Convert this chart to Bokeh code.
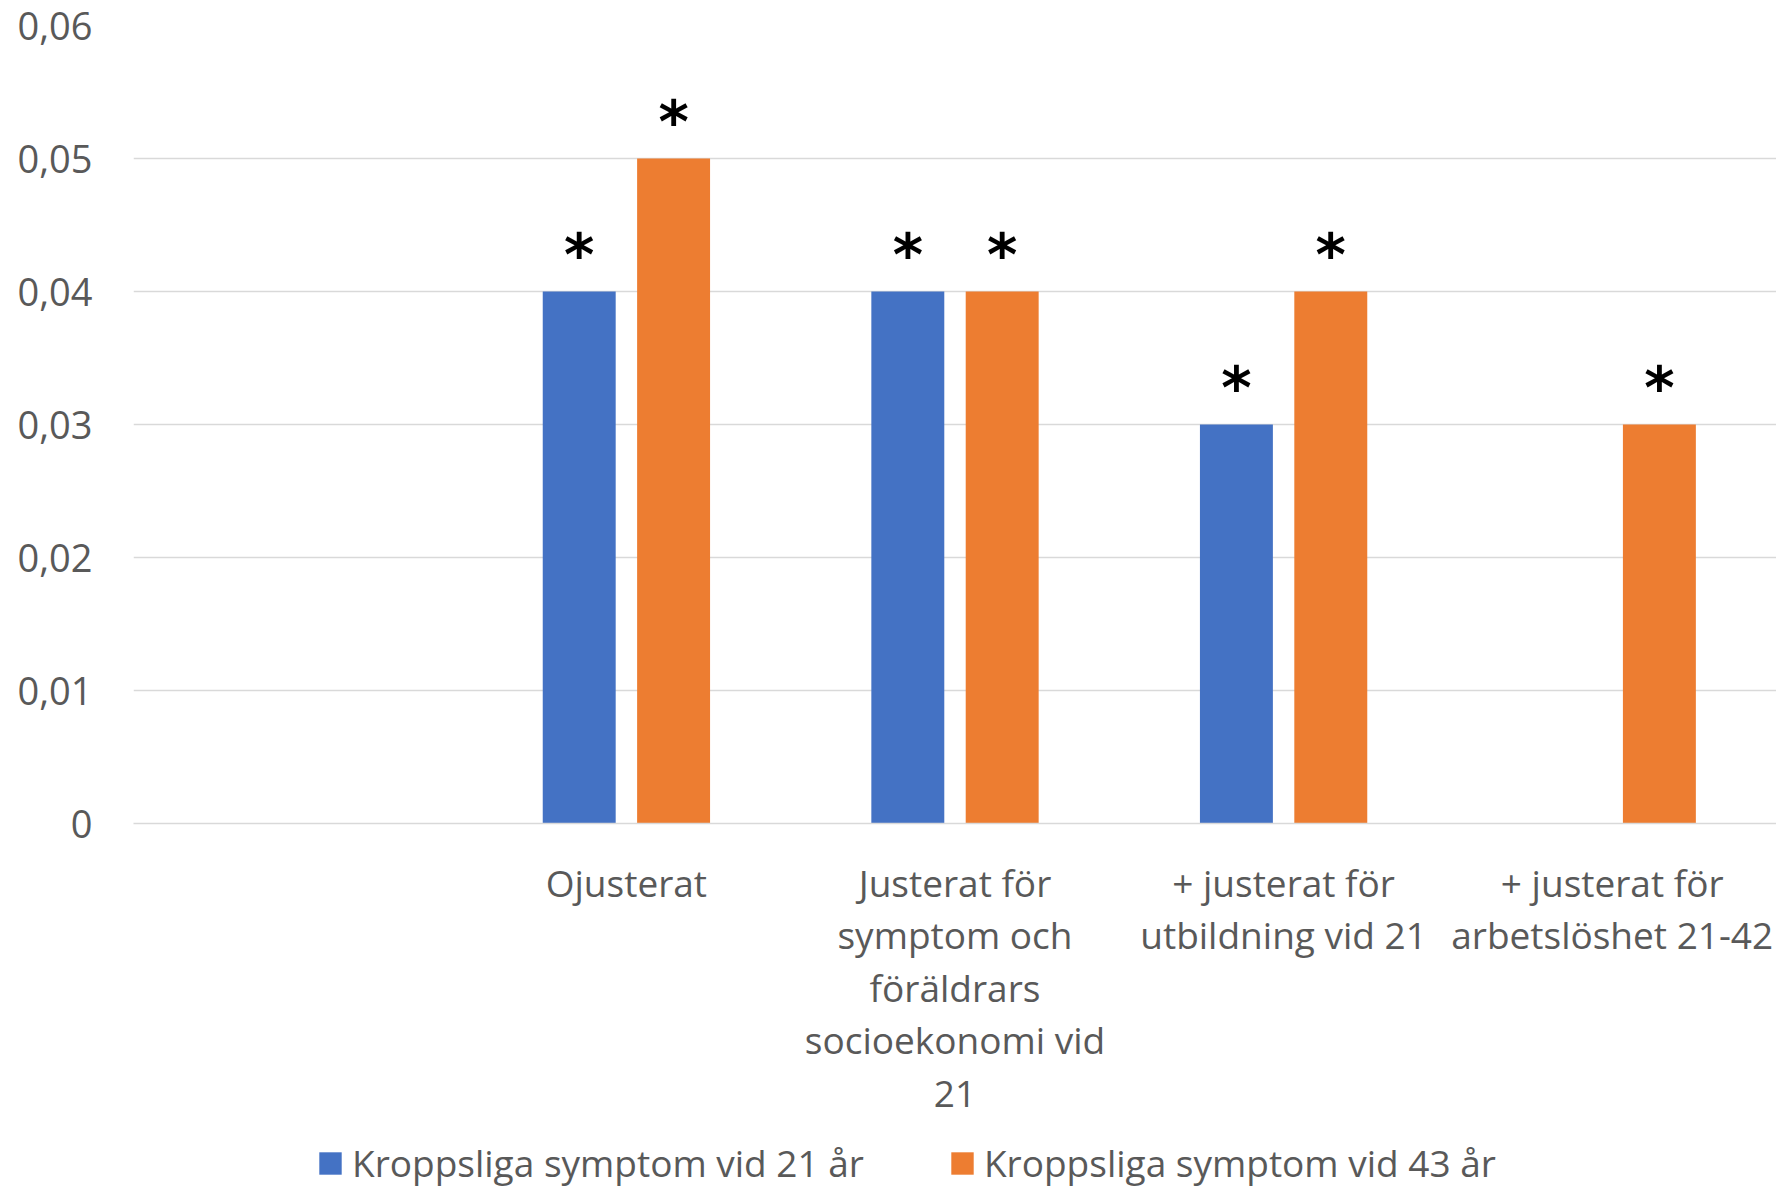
import numpy as np
from bokeh.plotting import figure
from bokeh.layouts import column
from bokeh.models import ColumnDataSource, Range1d, FactorRange, FixedTicker, CustomJSTickFormatter, Legend, LegendItem
from bokeh.transform import dodge
from bokeh.core.properties import value
from bokeh.embed import file_html
from bokeh.resources import INLINE

categories = [
    " ",
    "Ojusterat",
    "Justerat för\nsymptom och\nföräldrars\nsocioekonomi vid\n21",
    "+ justerat för\nutbildning vid 21",
    "+ justerat för\narbetslöshet 21-42",
]
series_names = ["Kroppsliga symptom vid 21 år", "Kroppsliga symptom vid 43 år"]
sym21 = [np.nan, 0.04, 0.04, 0.03, np.nan]
sym43 = [np.nan, 0.05, 0.04, 0.04, 0.03]
sig21 = ["", "*", "*", "*", ""]
sig43 = ["", "*", "*", "*", "*"]
y_ticks = [0, 0.01, 0.02, 0.03, 0.04, 0.05, 0.06]

colors = ["#4472C4", "#ED7D31"]
FONT = "Open Sans"
TXT = "#595959"
GRID = "#D9D9D9"
W = 1776

src = ColumnDataSource(dict(cat=categories, s21=np.array(sym21, dtype=float),
                            s43=np.array(sym43, dtype=float), g21=sig21, g43=sig43))

p = figure(width=W, height=1120, x_range=FactorRange(*categories),
           y_range=Range1d(0, 0.06), output_backend="svg", toolbar_location=None,
           min_border_left=133, min_border_right=0, min_border_top=25, min_border_bottom=289)
p.outline_line_color = None
p.background_fill_color = "white"

off = 0.1436
bw = 0.222
p.vbar(x=dodge("cat", -off, range=p.x_range), top="s21", width=bw, source=src,
       fill_color=colors[0], line_color=None)
p.vbar(x=dodge("cat", off, range=p.x_range), top="s43", width=bw, source=src,
       fill_color=colors[1], line_color=None)

for col, sig, o in (("s21", "g21", -off), ("s43", "g43", off)):
    p.text(x=dodge("cat", o, range=p.x_range), y=col, text=sig, source=src,
           text_font=value("DejaVu Sans"), text_font_style="bold", text_font_size="58px",
           text_color="black", text_align="center", text_baseline="alphabetic", y_offset=-37)

p.xgrid.grid_line_color = None
p.ygrid.grid_line_color = GRID
p.ygrid.grid_line_width = 1.5

p.yaxis.ticker = FixedTicker(ticks=y_ticks)
p.yaxis.formatter = CustomJSTickFormatter(code="return tick == 0 ? '0' : tick.toFixed(2).replace('.', ',');")
p.yaxis.axis_line_color = None
p.yaxis.major_tick_line_color = None
p.yaxis.minor_tick_line_color = None
p.yaxis.major_label_standoff = 35
p.yaxis.major_label_text_font = FONT
p.yaxis.major_label_text_font_size = "38px"
p.yaxis.major_label_text_color = TXT

p.xaxis.axis_line_color = GRID
p.xaxis.axis_line_width = 1.5
p.xaxis.major_tick_line_color = None
p.xaxis.major_tick_out = 0
p.xaxis.major_label_standoff = 33
p.xaxis.major_label_text_font = FONT
p.xaxis.major_label_text_font_size = "37px"
p.xaxis.major_label_text_color = TXT
p.xaxis.major_label_text_line_height = 1.03
p.xaxis.major_label_orientation = "horizontal"

# legend strip below the chart (swatch renderers sit outside the visible ranges)
p2 = figure(width=W, height=68, x_range=Range1d(0, 1), y_range=Range1d(0, 1),
            output_backend="svg", toolbar_location=None,
            x_axis_location=None, y_axis_location=None,
            min_border_left=0, min_border_right=0, min_border_top=0, min_border_bottom=0)
p2.outline_line_color = None
p2.xgrid.grid_line_color = None
p2.ygrid.grid_line_color = None
items = []
for name, c in zip(series_names, colors):
    r = p2.vbar(x=[5], top=[5], bottom=[4], width=0.1, fill_color=c, line_color=None)
    items.append(LegendItem(label=name, renderers=[r]))
lg = Legend(items=items, orientation="horizontal", location=(183, 0),
            border_line_color=None, background_fill_alpha=0, padding=0, margin=0,
            spacing=84, glyph_width=28, glyph_height=28, label_standoff=8, label_height=44,
            label_text_font=FONT, label_text_font_size="37px", label_text_color=TXT)
p2.add_layout(lg, "center")

layout = column(p, p2, spacing=0)
open("out.html", "w").write(file_html(layout, INLINE))
